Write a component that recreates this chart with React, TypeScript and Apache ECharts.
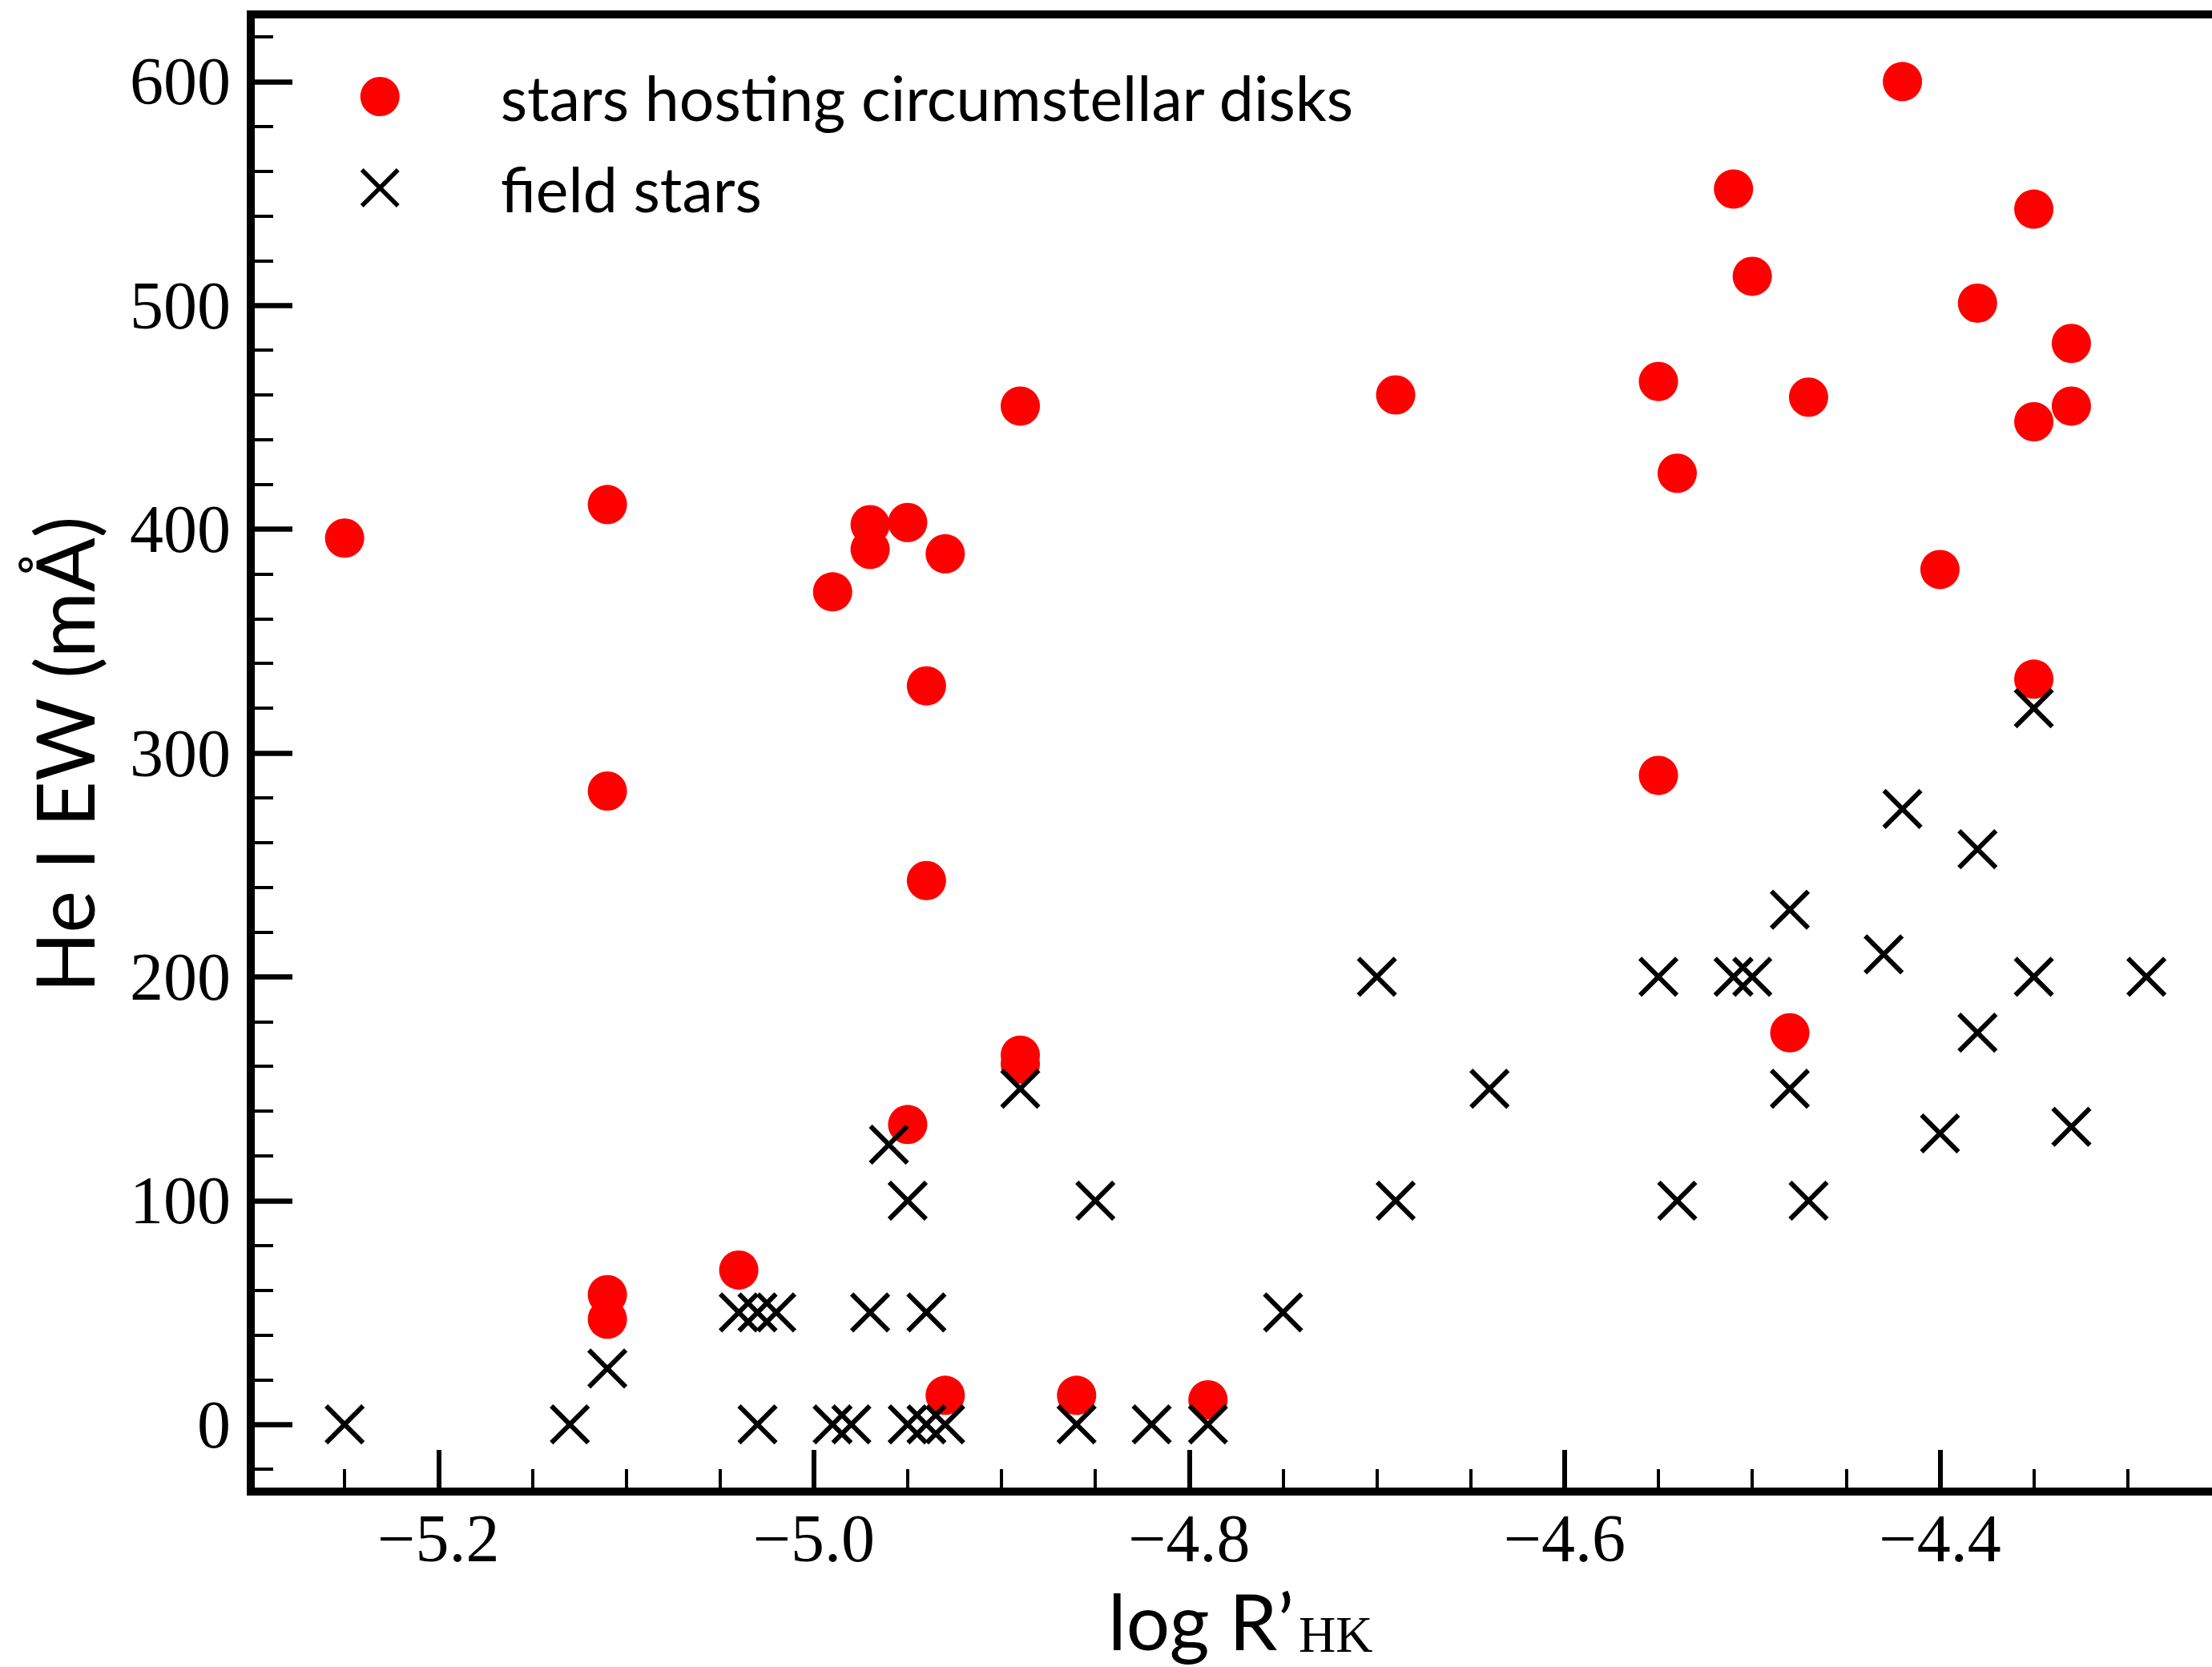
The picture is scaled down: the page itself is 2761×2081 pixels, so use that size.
import React, { useEffect, useRef } from "react";
import * as echarts from "echarts";

// log R'HK vs He I equivalent width (mÅ)
const diskStars: [number, number][] = [
  [-5.25, 396], [-5.11, 411], [-5.11, 283], [-5.11, 58], [-5.11, 47],
  [-5.04, 69], [-4.99, 372], [-4.97, 402], [-4.97, 391], [-4.95, 403],
  [-4.93, 389], [-4.94, 330], [-4.94, 243], [-4.95, 134], [-4.93, 13],
  [-4.89, 455], [-4.89, 165], [-4.89, 161], [-4.86, 13], [-4.79, 11],
  [-4.69, 460], [-4.55, 466], [-4.54, 425], [-4.55, 290], [-4.51, 552],
  [-4.5, 513], [-4.47, 459], [-4.48, 175], [-4.42, 600], [-4.38, 501],
  [-4.4, 382], [-4.35, 543], [-4.35, 448], [-4.35, 333], [-4.33, 483],
  [-4.33, 455],
];

const fieldStars: [number, number][] = [
  [-5.25, 0], [-5.13, 0], [-5.03, 0], [-4.99, 0], [-4.98, 0], [-4.95, 0],
  [-4.94, 0], [-4.93, 0], [-4.86, 0], [-4.82, 0], [-4.79, 0],
  [-5.11, 25],
  [-5.04, 50], [-5.03, 50], [-5.02, 50], [-4.97, 50], [-4.94, 50], [-4.75, 50],
  [-4.95, 100], [-4.85, 100], [-4.69, 100], [-4.54, 100], [-4.47, 100],
  [-4.96, 125],
  [-4.89, 150], [-4.64, 150], [-4.48, 150],
  [-4.4, 130], [-4.33, 133], [-4.38, 175],
  [-4.7, 200], [-4.55, 200], [-4.51, 200], [-4.5, 200], [-4.35, 200], [-4.29, 200],
  [-4.43, 210], [-4.48, 230], [-4.38, 257], [-4.42, 275], [-4.35, 320],
];

const xMajorTicks = [-5.2, -5.0, -4.8, -4.6, -4.4, -4.2];
const xTickLabels = [-5.2, -5.0, -4.8, -4.6, -4.4];
const xMinorTicks = [
  -5.25, -5.15, -5.1, -5.05, -4.95, -4.9, -4.85, -4.75, -4.7, -4.65,
  -4.55, -4.5, -4.45, -4.35, -4.3, -4.25,
];
const yMajorTicks = [0, 100, 200, 300, 400, 500, 600];
const yMinorTicks = [
  -20, 20, 40, 60, 80, 120, 140, 160, 180, 220, 240, 260, 280, 320, 340,
  360, 380, 420, 440, 460, 480, 520, 540, 560, 580, 620,
];

const X_MIN = -5.3;
const X_MAX = -4.2;
const Y_MIN = -30;
const Y_MAX = 630;

const SERIES_DISK = "stars hosting circumstellar disks";
const SERIES_FIELD = "field stars";

const CROSS = "path://M0,0L10,10M10,0L0,10";
const LEGEND_CROSS = "path://M0,0M100,100M4,4L96,96M96,4L4,96";

const SERIF = "'Liberation Serif', 'DejaVu Serif', serif";
const SANS = "Lato, 'Noto Sans', sans-serif";

const fmtX = (v: number) => v.toFixed(1).replace("-", "\u2212");

export default function App() {
  const ref = useRef<HTMLDivElement>(null);

  useEffect(() => {
    if (!ref.current) return;
    const chart = echarts.init(ref.current, undefined, { renderer: "svg" });

    const tickLine = (w: number) => ({ color: "#000", width: w });
    const noLine = { show: false, onZero: false };

    const option: any = {
      animation: false,
      backgroundColor: "#ffffff",
      grid: {
        left: 313,
        top: 18,
        width: 2577,
        height: 1844,
        outerBoundsMode: "none",
        containLabel: false,
        show: true,
        borderColor: "#000",
        borderWidth: 10,
        backgroundColor: "transparent",
      },
      xAxis: [
        {
          type: "value",
          min: X_MIN,
          max: X_MAX,
          position: "bottom",
          axisLine: noLine,
          splitLine: { show: false },
          axisTick: {
            show: true,
            inside: true,
            length: 52,
            customValues: xMajorTicks,
            lineStyle: tickLine(6),
          },
          axisLabel: {
            show: true,
            customValues: xTickLabels,
            formatter: (v: number) => fmtX(v),
            margin: 16,
            color: "#000",
            fontFamily: SERIF,
            fontSize: 84,
          },
        },
        {
          type: "value",
          min: X_MIN,
          max: X_MAX,
          position: "bottom",
          axisLine: noLine,
          splitLine: { show: false },
          axisTick: {
            show: true,
            inside: true,
            length: 28,
            customValues: xMinorTicks,
            lineStyle: tickLine(4),
          },
          axisLabel: { show: false },
        },
      ],
      yAxis: [
        {
          type: "value",
          min: Y_MIN,
          max: Y_MAX,
          position: "left",
          axisLine: noLine,
          splitLine: { show: false },
          axisTick: {
            show: true,
            inside: true,
            length: 52,
            customValues: yMajorTicks,
            lineStyle: tickLine(6.5),
          },
          axisLabel: {
            show: true,
            customValues: yMajorTicks,
            margin: 25,
            color: "#000",
            fontFamily: SERIF,
            fontSize: 84,
          },
        },
        {
          type: "value",
          min: Y_MIN,
          max: Y_MAX,
          position: "left",
          axisLine: noLine,
          splitLine: { show: false },
          axisTick: {
            show: true,
            inside: true,
            length: 28,
            customValues: yMinorTicks,
            lineStyle: tickLine(4),
          },
          axisLabel: { show: false },
        },
      ],
      legend: {
        orient: "vertical",
        left: 447,
        top: 82,
        padding: 0,
        itemWidth: 49,
        itemHeight: 49,
        itemGap: 37,
        selectedMode: false,
        textStyle: {
          fontFamily: SANS,
          fontSize: 77,
          color: "#000",
          padding: [0, 0, 0, 121],
        },
        data: [
          { name: SERIES_DISK, icon: "circle", itemStyle: { color: "#ff0000", opacity: 1 } },
          {
            name: SERIES_FIELD,
            icon: LEGEND_CROSS,
            itemStyle: { color: "rgba(0,0,0,0)", borderColor: "#000", borderWidth: 5.5, opacity: 1 },
          },
        ],
      },
      graphic: [
        {
          type: "text",
          x: 79,
          y: 942,
          rotation: Math.PI / 2,
          style: {
            text: "He I EW (mÅ)",
            fontFamily: SANS,
            fontSize: 100,
            fill: "#000",
            align: "center",
            verticalAlign: "middle",
          },
        },
        {
          type: "text",
          x: 1615,
          y: 2022,
          style: {
            text: "log R\u2019",
            fontFamily: SANS,
            fontSize: 96,
            lineHeight: 90,
            fill: "#000",
            align: "right",
            verticalAlign: "middle",
          },
        },
        {
          type: "text",
          x: 1621,
          y: 2040,
          style: {
            text: "HK",
            fontFamily: SERIF,
            fontSize: 64,
            lineHeight: 44,
            fill: "#000",
            align: "left",
            verticalAlign: "middle",
          },
        },
      ],
      series: [
        {
          type: "scatter",
          name: SERIES_DISK,
          xAxisIndex: 0,
          yAxisIndex: 0,
          data: diskStars,
          symbol: "circle",
          symbolSize: 49,
          itemStyle: { color: "#ff0000", opacity: 1 },
          z: 2,
        },
        {
          type: "scatter",
          name: SERIES_FIELD,
          xAxisIndex: 0,
          yAxisIndex: 0,
          data: fieldStars,
          symbol: CROSS,
          symbolSize: 46,
          itemStyle: {
            color: "rgba(0,0,0,0)",
            borderColor: "#000",
            borderWidth: 6,
            opacity: 1,
          },
          z: 3,
        },
      ],
    };

    chart.setOption(option);
    return () => chart.dispose();
  }, []);

  return (
    <div
      ref={ref}
      style={{ position: "fixed", left: 0, top: 0, width: 2761, height: 2081, background: "#fff" }}
    />
  );
}
